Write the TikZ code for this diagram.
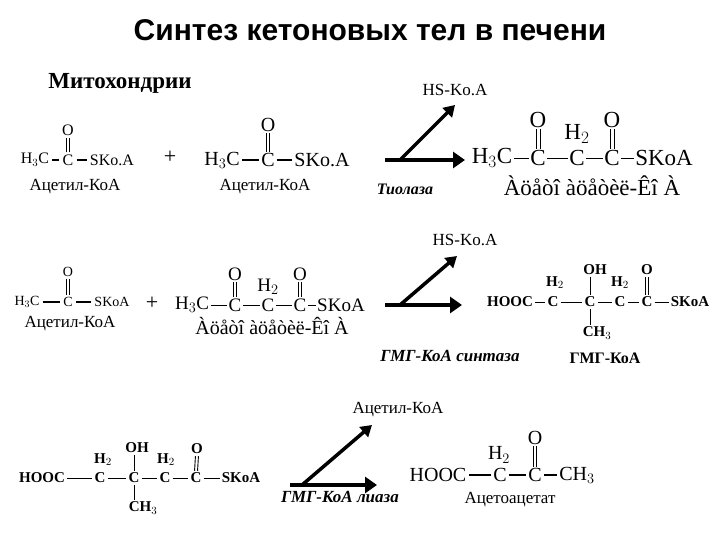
\documentclass[tikz,border=0pt]{standalone}
\usepackage{fontspec}
\setmainfont{Liberation Serif}
\newfontfamily\titlefont{Liberation Sans}
\usetikzlibrary{arrows.meta}
\newcommand{\fs}[1]{\fontsize{#1}{#1}\selectfont}
\begin{document}
\begin{tikzpicture}[x=1pt,y=-1pt,
  a/.style={inner sep=1pt,font=\fs{16}},
  ab/.style={inner sep=0.5pt,font=\fs{23}},
  ah/.style={inner sep=1pt,font=\fs{15}\bfseries},
  al/.style={inner sep=0.5pt,font=\fs{19}},
  lab/.style={inner sep=1pt,font=\fs{17}},
  enz/.style={inner sep=1pt,font=\fs{16}\bfseries\itshape},
  bond/.style={line width=0.9pt,shorten <=1pt,shorten >=1pt},
  dbl/.style={line width=0.9pt,shorten <=1pt,shorten >=1pt},
  bbond/.style={line width=2pt,shorten <=2pt,shorten >=2pt},
  rx/.style={line width=4.5pt,-{Triangle[length=12pt,width=16pt]}},
  rxd/.style={line width=3.5pt,-{Triangle[length=11pt,width=13pt]}}]
\useasboundingbox (0,0) rectangle (720,540);
\node[font=\titlefont\fs{30}\bfseries] (title) at (370,30) {Синтез кетоновых тел в печени};
\node[font=\fs{23}\bfseries] (mito) at (120,83) {Митохондрии};
\node[lab] (hs1) at (455,90) {HS-Ko.A};
% row 1 molecule 1
\node[a] (m1a) at (35,160) {H$_3$C};
\node[a] (m1b) at (68,160) {C};
\node[a] (m1c) at (112,160) {SKo.A};
\node[a] (m1o) at (68,130) {O};
\draw[bbond] (m1a) -- (m1b); \draw[bbond] (m1b) -- (m1c);
\draw[dbl] ([xshift=-1.5pt]m1b.north) -- ([xshift=-1.5pt]m1o.south);
\draw[dbl] ([xshift=1.5pt]m1b.north) -- ([xshift=1.5pt]m1o.south);
\node[lab] (l1) at (75,187) {Ацетил-КоА};
\node[font=\fs{22}] (p1) at (170,157) {+};
% row 1 molecule 2
\node[al,font=\fs{20}] (m2a) at (222,160) {H$_3$C};
\node[al,font=\fs{20}] (m2b) at (268,160) {C};
\node[al,font=\fs{20}] (m2c) at (322,160) {SKo.A};
\node[al,font=\fs{20}] (m2o) at (268,125) {O};
\draw[bbond] (m2a) -- (m2b); \draw[bbond] (m2b) -- (m2c);
\draw[dbl] ([xshift=-1.5pt]m2b.north) -- ([xshift=-1.5pt]m2o.south);
\draw[dbl] ([xshift=1.5pt]m2b.north) -- ([xshift=1.5pt]m2o.south);
\node[lab] (l2) at (265,187) {Ацетил-КоА};
% arrow 1
\coordinate (r1s) at (385,160); \coordinate (r1e) at (465,160);
\coordinate (r1d) at (400,160); \coordinate (r1u) at (455,105);
\draw[rx] (r1s) -- (r1e);
\draw[rxd] (r1d) -- (r1u);
\node[enz] (e1) at (405,189) {Тиолаза};
% product 1
\node[ab] (q1a) at (492,158) {H$_3$C};
\node[ab] (q1b) at (538,158) {C};
\node[ab] (q1c) at (577,158) {C};
\node[ab] (q1d) at (612,158) {C};
\node[ab] (q1e) at (664,158) {SKoA};
\node[ab] (q1h) at (577,134) {H$_2$};
\node[ab] (q1o1) at (538,120) {O};
\node[ab] (q1o2) at (612,120) {O};
\draw[bond] (q1a) -- (q1b); \draw[bond] (q1b) -- (q1c); \draw[bond] (q1c) -- (q1d); \draw[bond] (q1d) -- (q1e);
\foreach \c/\o in {q1b/q1o1,q1d/q1o2}{
 \draw[dbl] ([xshift=-2pt]\c.north) -- ([xshift=-2pt]\o.south);
 \draw[dbl] ([xshift=2pt]\c.north) -- ([xshift=2pt]\o.south);}
\node[ab] (q1l) at (592,186) {Àöåòî àöåòèë-Êî À};
% row 2
\node[lab] (hs2) at (465,240) {HS-Ko.A};
\node[a,font=\fs{14}] (n1a) at (27,302) {H$_3$C};
\node[a,font=\fs{14}] (n1b) at (68,302) {C};
\node[a,font=\fs{14}] (n1c) at (112,302) {SKoA};
\node[a,font=\fs{14}] (n1o) at (68,272) {O};
\draw[bbond] (n1a) -- (n1b); \draw[bbond] (n1b) -- (n1c);
\draw[dbl] ([xshift=-1.5pt]n1b.north) -- ([xshift=-1.5pt]n1o.south);
\draw[dbl] ([xshift=1.5pt]n1b.north) -- ([xshift=1.5pt]n1o.south);
\node[lab] (l3) at (70,324) {Ацетил-КоА};
\node[font=\fs{22}] (p2) at (152,303) {+};
\node[al] (n2a) at (192,305) {H$_3$C};
\node[al] (n2b) at (235,305) {C};
\node[al] (n2c) at (268,305) {C};
\node[al] (n2d) at (300,305) {C};
\node[al] (n2e) at (341,305) {SKoA};
\node[al] (n2h) at (268,287) {H$_2$};
\node[al] (n2o1) at (235,274) {O};
\node[al] (n2o2) at (300,274) {O};
\draw[bond] (n2a) -- (n2b); \draw[bond] (n2b) -- (n2c); \draw[bond] (n2c) -- (n2d); \draw[bond] (n2d) -- (n2e);
\foreach \c/\o in {n2b/n2o1,n2d/n2o2}{
 \draw[dbl] ([xshift=-1.5pt]\c.north) -- ([xshift=-1.5pt]\o.south);
 \draw[dbl] ([xshift=1.5pt]\c.north) -- ([xshift=1.5pt]\o.south);}
\node[al,font=\fs{20}] (n2l) at (272,326) {Àöåòî àöåòèë-Êî À};
\coordinate (r2s) at (385,305); \coordinate (r2e) at (462,305);
\coordinate (r2d) at (400,305); \coordinate (r2u) at (457,256);
\draw[rx] (r2s) -- (r2e);
\draw[rxd] (r2d) -- (r2u);
\node[enz,font=\fs{17}\bfseries\itshape] (e2) at (450,356) {ГМГ-КоА синтаза};
% HMG-CoA row 2
\node[ah] (h1a) at (510,302) {HOOC};
\node[ah] (h1b) at (553,302) {C};
\node[ah] (h1c) at (590,302) {C};
\node[ah] (h1d) at (620,302) {C};
\node[ah] (h1e) at (647,302) {C};
\node[ah] (h1f) at (690,302) {SKoA};
\node[ah] (h1h1) at (555,283) {H$_2$};
\node[ah] (h1h2) at (620,283) {H$_2$};
\node[ah] (h1oh) at (595,270) {OH};
\node[ah] (h1o) at (647,270) {O};
\node[ah] (h1m) at (597,333) {CH$_3$};
\draw[bond] (h1a) -- (h1b); \draw[bond] (h1b) -- (h1c); \draw[bond] (h1c) -- (h1d); \draw[bond] (h1d) -- (h1e); \draw[bond] (h1e) -- (h1f);
\draw[bond] (h1c) -- (h1oh.south -| h1c); \draw[bond] (h1c) -- (h1m.north -| h1c);
\draw[dbl] ([xshift=-1.5pt]h1e.north) -- ([xshift=-1.5pt]h1o.south);
\draw[dbl] ([xshift=1.5pt]h1e.north) -- ([xshift=1.5pt]h1o.south);
\node[lab,font=\fs{16}\bfseries] (l4) at (605,358) {ГМГ-КоА};
% row 3
\node[lab] (ac3) at (398,410) {Ацетил-КоА};
\node[ah] (g1a) at (42,478) {HOOC};
\node[ah] (g1b) at (100,478) {C};
\node[ah] (g1c) at (134,478) {C};
\node[ah] (g1d) at (165,478) {C};
\node[ah] (g1e) at (196,478) {C};
\node[ah] (g1f) at (241,478) {SKoA};
\node[ah] (g1h1) at (103,460) {H$_2$};
\node[ah] (g1h2) at (166,460) {H$_2$};
\node[ah] (g1oh) at (137,448) {OH};
\node[ah] (g1o) at (197,449) {O};
\node[ah] (g1m) at (143,508) {CH$_3$};
\draw[bond] (g1a) -- (g1b); \draw[bond] (g1b) -- (g1c); \draw[bond] (g1c) -- (g1d); \draw[bond] (g1d) -- (g1e); \draw[bond] (g1e) -- (g1f);
\draw[bond] (g1c) -- (g1oh.south -| g1c); \draw[bond] (g1c) -- (g1m.north -| g1c);
\draw[dbl] ([xshift=-1.5pt]g1e.north) -- ([xshift=-1.5pt]g1o.south);
\draw[dbl] ([xshift=1.5pt]g1e.north) -- ([xshift=1.5pt]g1o.south);
\coordinate (r3s) at (290,485); \coordinate (r3e) at (377,485);
\coordinate (r3d) at (302,485); \coordinate (r3u) at (372,425);
\draw[rx] (r3s) -- (r3e);
\draw[rxd] (r3d) -- (r3u);
\node[enz,font=\fs{17}\bfseries\itshape] (e3) at (340,497) {ГМГ-КоА лиаза};
\node[al,font=\fs{20}] (k1a) at (438,475) {HOOC};
\node[al,font=\fs{20}] (k1b) at (500,475) {C};
\node[al,font=\fs{20}] (k1c) at (535,475) {C};
\node[al,font=\fs{20}] (k1d) at (577,475) {CH$_3$};
\node[al,font=\fs{20}] (k1h) at (499,455) {H$_2$};
\node[al,font=\fs{20}] (k1o) at (535,438) {O};
\draw[bbond] (k1a) -- (k1b); \draw[bbond] (k1b) -- (k1c); \draw[bbond] (k1c) -- (k1d);
\draw[dbl] ([xshift=-1.5pt]k1c.north) -- ([xshift=-1.5pt]k1o.south);
\draw[dbl] ([xshift=1.5pt]k1c.north) -- ([xshift=1.5pt]k1o.south);
\node[lab] (l5) at (510,500) {Ацетоацетат};
\end{tikzpicture}
\end{document}
